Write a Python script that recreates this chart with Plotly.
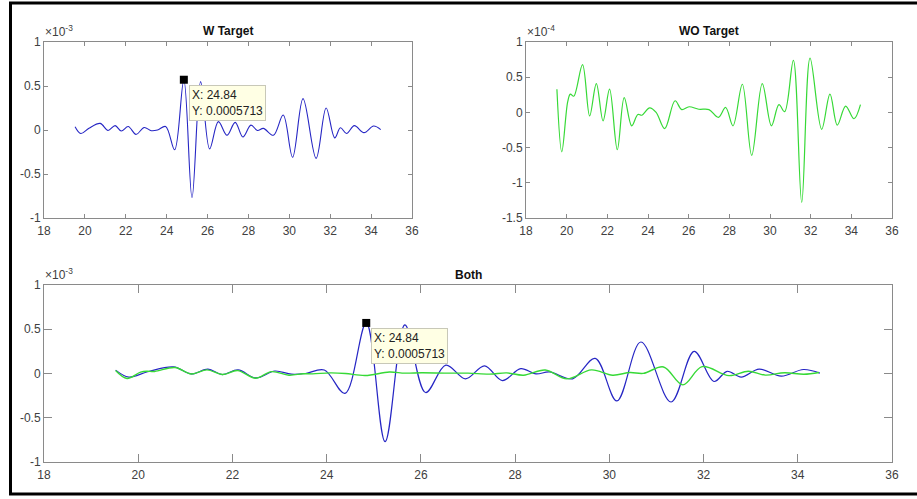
import plotly.graph_objects as go

# ---- data -----------------------------------------------------------------
# Signal with target present (extrema and turning points of the trace)
w_x = [19.52, 19.80, 20.20, 20.75, 21.13, 21.48, 21.78, 22.12, 22.50, 22.90,
       23.25, 23.55, 23.95, 24.39, 24.84, 25.24, 25.66, 26.10, 26.53, 26.95,
       27.35, 27.73, 28.12, 28.44, 28.73, 29.22, 29.70, 30.16, 30.67, 31.31,
       31.80, 32.22, 32.50, 32.80, 33.18, 33.65, 34.12, 34.47]
w_y = [0.038e-3, -0.040e-3, 0.020e-3, 0.075e-3, -0.005e-3, 0.050e-3, -0.012e-3,
       0.040e-3, -0.050e-3, 0.028e-3, -0.008e-3, 0.000e-3, 0.040e-3, -0.225e-3,
       0.0005713, -0.770e-3, 0.550e-3, -0.215e-3, 0.095e-3, -0.060e-3,
       0.087e-3, -0.080e-3, 0.055e-3, -0.005e-3, 0.018e-3, -0.060e-3,
       0.170e-3, -0.310e-3, 0.356e-3, -0.322e-3, 0.250e-3, -0.090e-3,
       0.025e-3, -0.040e-3, 0.050e-3, -0.030e-3, 0.045e-3, 0.005e-3]

# Signal without target
wo_x = [19.52, 19.76, 20.05, 20.18, 20.35, 20.78, 21.13, 21.46, 21.79, 22.11,
        22.49, 22.83, 23.20, 23.50, 23.70, 24.08, 24.40, 24.82, 25.33, 25.66,
        26.02, 26.50, 27.00, 27.46, 27.82, 28.18, 28.64, 29.10, 29.62, 30.07,
        30.44, 30.72, 31.15, 31.56, 31.97, 32.54, 32.95, 33.31, 33.72, 34.13,
        34.45]
wo_y = [0.33e-4, -0.56e-4, 0.15e-4, 0.26e-4, 0.23e-4, 0.68e-4, -0.05e-4,
        0.41e-4, -0.12e-4, 0.33e-4, -0.53e-4, 0.21e-4, -0.19e-4, -0.03e-4,
        -0.04e-4, 0.065e-4, 0.00e-4, -0.23e-4, 0.165e-4, 0.04e-4, 0.08e-4,
        0.045e-4, 0.04e-4, -0.07e-4, 0.07e-4, -0.19e-4, 0.40e-4, -0.61e-4,
        0.41e-4, -0.19e-4, 0.11e-4, 0.01e-4, 0.74e-4, -1.28e-4, 0.77e-4,
        -0.24e-4, 0.26e-4, -0.18e-4, 0.09e-4, -0.09e-4, 0.11e-4]

# Data tip
tip_x = 24.84
tip_y = 0.0005713

x_ticks = [18, 20, 22, 24, 26, 28, 30, 32, 34, 36]
y3_vals = [-1e-3, -0.5e-3, 0, 0.5e-3, 1e-3]
y3_text = ["-1", "-0.5", "0", "0.5", "1"]
y4_vals = [-1.5e-4, -1e-4, -0.5e-4, 0, 0.5e-4, 1e-4]
y4_text = ["-1.5", "-1", "-0.5", "0", "0.5", "1"]

# ---- styling --------------------------------------------------------------
W, H = 917, 499
FONT = "Liberation Sans, Arial, Helvetica, sans-serif"
AX_COL = "#8a8a8a"
TXT_COL = "#404040"
BLUE = "#2626c4"
GREEN = "#36d936"


def px_x(p):
    return p / W


def px_y(p):
    return 1 - p / H


fig = go.Figure()

# W Target
fig.add_trace(go.Scatter(x=w_x, y=w_y, mode="lines", line=dict(color=BLUE, width=1.1, shape="spline"),
                         xaxis="x", yaxis="y", showlegend=False, hoverinfo="skip"))
# WO Target
fig.add_trace(go.Scatter(x=wo_x, y=wo_y, mode="lines", line=dict(color=GREEN, width=1.2, shape="spline"),
                         xaxis="x2", yaxis="y2", showlegend=False, hoverinfo="skip"))
# Both
fig.add_trace(go.Scatter(x=w_x, y=w_y, mode="lines", line=dict(color=BLUE, width=1.2, shape="spline"),
                         xaxis="x3", yaxis="y3", showlegend=False, hoverinfo="skip"))
fig.add_trace(go.Scatter(x=wo_x, y=wo_y, mode="lines", line=dict(color=GREEN, width=1.4, shape="spline"),
                         xaxis="x3", yaxis="y3", showlegend=False, hoverinfo="skip"))

# data tip markers
for xa, ya in (("x", "y"), ("x3", "y3")):
    fig.add_trace(go.Scatter(x=[tip_x], y=[tip_y], mode="markers",
                             marker=dict(symbol="square", size=8, color="black"),
                             xaxis=xa, yaxis=ya, showlegend=False, hoverinfo="skip"))


def xaxis(domain, anchor, tick_len):
    return dict(domain=domain, anchor=anchor, range=[18, 36], tickvals=x_ticks,
                ticks="inside", ticklen=tick_len, tickcolor=AX_COL, tickwidth=1,
                showline=True, linecolor=AX_COL, linewidth=1, mirror="ticks",
                showgrid=False, zeroline=False, automargin=False, ticklabelstandoff=2,
                tickfont=dict(family=FONT, size=12, color=TXT_COL))


def yaxis(domain, anchor, rng, vals, text, tick_len):
    return dict(domain=domain, anchor=anchor, range=rng, tickvals=vals, ticktext=text,
                ticks="inside", ticklen=tick_len, tickcolor=AX_COL, tickwidth=1,
                showline=True, linecolor=AX_COL, linewidth=1, mirror="ticks",
                showgrid=False, zeroline=False, automargin=False,
                tickfont=dict(family=FONT, size=12, color=TXT_COL))


top_y = [px_y(218), px_y(42)]
bot_y = [px_y(462), px_y(285)]

fig.update_layout(
    width=W, height=H,
    margin=dict(l=0, r=0, t=0, b=0, pad=0, autoexpand=False),
    paper_bgcolor="white", plot_bgcolor="white",
    xaxis=xaxis([px_x(44), px_x(412)], "y", 4),
    yaxis=yaxis(top_y, "x", [-1e-3, 1e-3], y3_vals, y3_text, 4),
    xaxis2=xaxis([px_x(526), px_x(892)], "y2", 4),
    yaxis2=yaxis(top_y, "x2", [-1.5e-4, 1e-4], y4_vals, y4_text, 4),
    xaxis3=xaxis([px_x(44), px_x(892)], "y3", 8),
    yaxis3=yaxis(bot_y, "x3", [-1e-3, 1e-3], y3_vals, y3_text, 8),
)

annotations = []
# titles
for text, cx, cy in (("W Target", 228, 31), ("WO Target", 709, 31), ("Both", 468, 275)):
    annotations.append(dict(text="<b>%s</b>" % text, x=px_x(cx), y=px_y(cy), xref="paper", yref="paper",
                            xanchor="center", yanchor="middle", showarrow=False,
                            font=dict(family=FONT, size=12, color="#111111")))
# exponent labels
for text, lx, ty in (("×10<sup>-3</sup>", 43, 42), ("×10<sup>-4</sup>", 525, 42), ("×10<sup>-3</sup>", 43, 285)):
    annotations.append(dict(text=text, x=px_x(lx), y=px_y(ty - 1), xref="paper", yref="paper",
                            xanchor="left", yanchor="bottom", showarrow=False,
                            font=dict(family=FONT, size=12, color=TXT_COL)))
# data tip boxes
for xa, ya in (("x", "y"), ("x3", "y3")):
    annotations.append(dict(text="X: %.2f<br>Y: %.7f" % (tip_x, tip_y), x=tip_x, y=tip_y,
                            xref=xa, yref=ya, xanchor="left", yanchor="top", align="left",
                            xshift=5, yshift=-5, showarrow=False,
                            bgcolor="#ffffe4", bordercolor="#c8c8b8", borderwidth=1, borderpad=2,
                            font=dict(family=FONT, size=12, color="#222222")))
fig.update_layout(annotations=annotations)

# outer frame around the figure
fig.add_shape(type="rect", xref="paper", yref="paper",
              x0=px_x(10.5), x1=px_x(930), y0=px_y(494), y1=px_y(3),
              line=dict(color="black", width=3), fillcolor="rgba(0,0,0,0)")

fig.write_html("out.html")
